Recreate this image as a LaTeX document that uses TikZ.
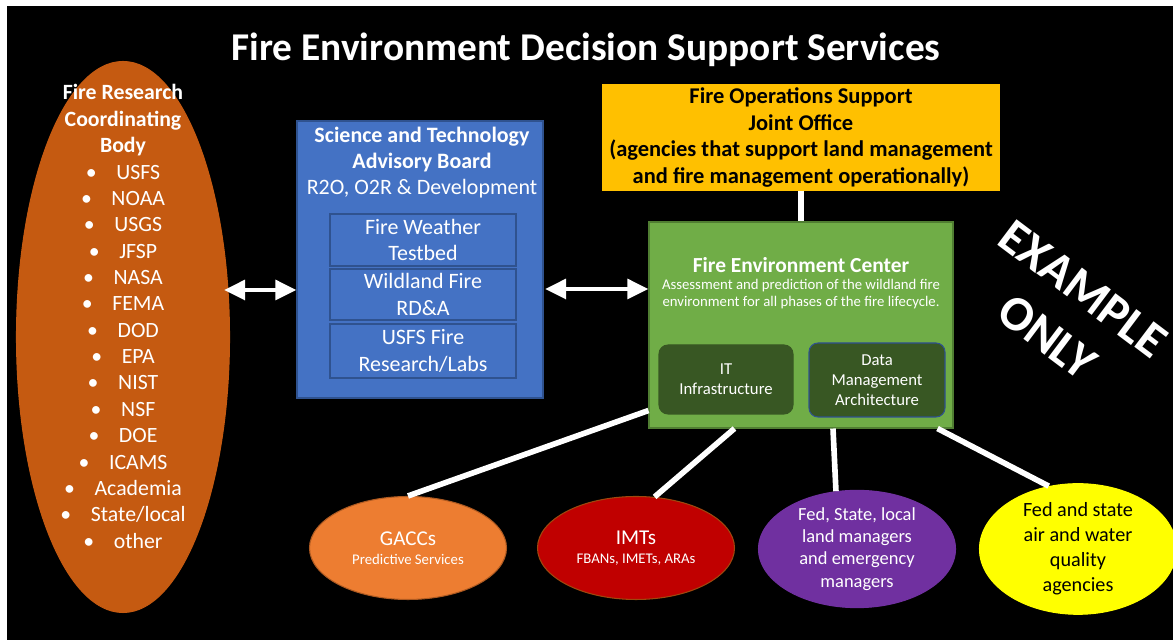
\documentclass[tikz,border=0pt]{standalone}
\usepackage{fontspec}
\setmainfont{Carlito}
\usetikzlibrary{shapes.geometric,arrows.meta}
\definecolor{frcborange}{HTML}{C55A11}
\definecolor{stblue}{HTML}{4472C4}
\definecolor{stedge}{HTML}{2F528F}
\definecolor{fosgold}{HTML}{FFC000}
\definecolor{fecgreen}{HTML}{70AD47}
\definecolor{fecedge}{HTML}{507E32}
\definecolor{itgreen}{HTML}{385723}
\definecolor{gaccorange}{HTML}{ED7D31}
\definecolor{gaccedge}{HTML}{AE5A21}
\definecolor{imtred}{HTML}{C00000}
\definecolor{imtedge}{HTML}{9E480E}
\definecolor{lmgrpurple}{HTML}{7030A0}
\definecolor{aqayellow}{HTML}{FFFF00}

\begin{document}
\begin{tikzpicture}[
  box/.style={draw, line width=0.6pt, inner sep=0pt},
  subbox/.style={box, draw=stedge, fill=stblue, text=white, minimum width=3.720cm, align=center, font=\fontsize{12.5}{15}\selectfont},
  itbox/.style={box, fill=itgreen, rounded corners=0.18cm, text=white, align=center, font=\fontsize{9.5}{11.5}\selectfont},
  oval/.style={ellipse, draw, line width=0.6pt, inner sep=0pt, minimum width=3.940cm, minimum height=2.060cm, align=center},
  txt/.style={text=white, align=center, inner sep=0pt},
  link/.style={white, line width=3.2pt},
  dblarrow/.style={white, line width=2.8pt, {Triangle[length=12pt,width=11pt]}-{Triangle[length=12pt,width=11pt]}}
]
\useasboundingbox (0,0) rectangle (23.460,12.800);
\clip (0,0) rectangle (23.460,12.800);
\fill[white] (0,0) rectangle (23.460,12.800);
\fill[black] (0.140,0) rectangle (23.460,12.680);

\node[txt, font=\bfseries\fontsize{22.4}{26}\selectfont] (title) at (11.720,11.800) {Fire Environment Decision Support Services};

\node[oval, fill=frcborange, draw=frcborange, minimum width=4.260cm, minimum height=11.020cm] (frcb) at (2.460,6.060) {};
\node[txt, font=\fontsize{12.4}{15}\selectfont] (frcbtxt) at (2.460,6.470) {\textbf{Fire Research}\\\textbf{Coordinating}\\\textbf{Body}\\
  \textbullet\hspace{0.9em}USFS\\ \textbullet\hspace{0.9em}NOAA\\ \textbullet\hspace{0.9em}USGS\\ \textbullet\hspace{0.9em}JFSP\\
  \textbullet\hspace{0.9em}NASA\\ \textbullet\hspace{0.9em}FEMA\\ \textbullet\hspace{0.9em}DOD\\ \textbullet\hspace{0.9em}EPA\\
  \textbullet\hspace{0.9em}NIST\\ \textbullet\hspace{0.9em}NSF\\ \textbullet\hspace{0.9em}DOE\\ \textbullet\hspace{0.9em}ICAMS\\
  \textbullet\hspace{0.9em}Academia\\ \textbullet\hspace{0.9em}State/local\\ \textbullet\hspace{0.9em}other};

\node[box, draw=stedge, fill=stblue, minimum width=4.920cm, minimum height=5.540cm] (stab) at (8.400,7.610) {};
\node[txt, font=\fontsize{12.5}{15}\selectfont] (stabtxt) at (8.440,9.550) {\textbf{Science and Technology}\\\textbf{Advisory Board}\\R2O, O2R \& Development};
\node[subbox, minimum height=1.040cm] (fwt) at (8.460,8.000) {Fire Weather\\Testbed};
\node[subbox, minimum height=1.020cm] (wfrda) at (8.460,6.910) {Wildland Fire\\RD\&A};
\node[subbox, minimum height=1.080cm] (usfs) at (8.460,5.780) {USFS Fire\\Research/Labs};

\node[box, draw=fosgold, fill=fosgold, minimum width=7.920cm, minimum height=2.100cm, align=center, font=\bfseries\fontsize{12.8}{15}\selectfont] (fosjo) at (16.020,10.050)
  {Fire Operations Support\\Joint Office\\(agencies that support land management\\and fire management operationally)};

\node[box, draw=fecedge, fill=fecgreen, minimum width=6.080cm, minimum height=4.120cm] (fec) at (16.020,6.300) {};
\node[txt, font=\bfseries\fontsize{12.2}{15}\selectfont] (fectitle) at (16.020,7.500) {Fire Environment Center};
\node[txt, font=\fontsize{8.4}{9.7}\selectfont] (fecsub) at (16.020,6.910) {Assessment and prediction of the wildland fire\\environment for all phases of the fire lifecycle.};
\node[itbox, draw=itgreen, minimum width=2.680cm, minimum height=1.380cm] (it) at (14.520,5.210) {IT\\Infrastructure};
\node[itbox, draw=stedge, minimum width=2.720cm, minimum height=1.480cm] (dma) at (17.540,5.200) {Data\\Management\\Architecture};

\node[oval, fill=gaccorange, draw=gaccedge, text=white] (gacc) at (8.160,1.840) {{\fontsize{12}{15}\selectfont GACCs}\\[-1pt]{\fontsize{8.4}{10}\selectfont Predictive Services}};
\node[oval, fill=imtred, draw=imtedge, text=white] (imt) at (12.720,1.840) {{\fontsize{12}{15}\selectfont IMTs}\\[-1pt]{\fontsize{8.4}{10}\selectfont FBANs, IMETs, ARAs}};
\node[oval, fill=lmgrpurple, draw=lmgrpurple, text=white, font=\fontsize{10.5}{12.7}\selectfont] (lmgr) at (17.140,1.820) {Fed, State, local\\land managers\\and emergency\\managers};
\node[oval, fill=aqayellow, draw=aqayellow, text=black, font=\fontsize{11.5}{14.2}\selectfont] (aqa) at (21.560,1.820) {Fed and state\\air and water\\quality\\agencies};

\node[txt, font=\bfseries\fontsize{28}{34}\selectfont, rotate=-37] (stamp) at (21.300,6.540) {EXAMPLE\\ONLY};

\coordinate (frcbr) at (4.480,7.000);
\draw[dblarrow] (frcbr) -- (frcbr -| stab.west);
\coordinate (stabr) at (10.900,7.020);
\draw[dblarrow] (stabr) -- (stabr -| fec.west);

\draw[link] (fosjo.south) -- (fec.north);
\draw[link] (gacc.north) -- ([yshift=0.360cm]fec.south west);
\draw[link] (imt.70) -- ([xshift=1.720cm]fec.south west);
\draw[link] (lmgr.110) -- ([xshift=0.640cm]fec.south);
\draw[link] (aqa.115) -- ([xshift=-0.320cm]fec.south east);
\end{tikzpicture}
\end{document}
